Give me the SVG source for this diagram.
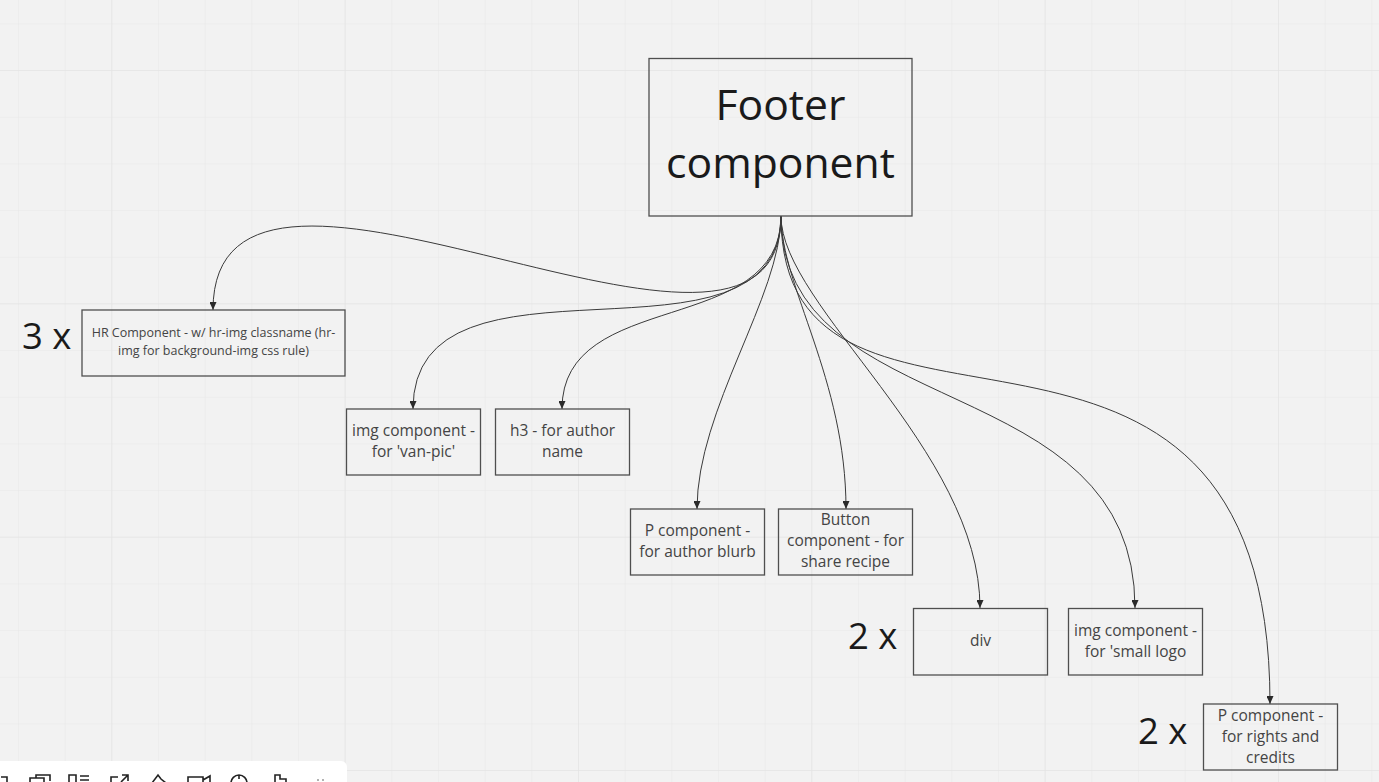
<svg xmlns="http://www.w3.org/2000/svg" width="1379" height="782" viewBox="0 0 1379 782">
<style>
.box{fill:none;stroke:#4f4f4f;stroke-width:1.3}
.t{font-family:"Open Sans","Noto Sans","Liberation Sans",sans-serif;font-size:15.5px;fill:#444;text-anchor:middle}
.ts{font-family:"Open Sans","Noto Sans","Liberation Sans",sans-serif;font-size:12.5px;fill:#444;text-anchor:middle}
.big{font-family:"Open Sans","Noto Sans","Liberation Sans",sans-serif;font-size:42.7px;fill:#1a1a1a;text-anchor:middle}
.mult{font-family:"Open Sans","Noto Sans","Liberation Sans",sans-serif;font-size:36.5px;fill:#1a1a1a}
.c{fill:none;stroke:#3a3a3a;stroke-width:1;marker-end:url(#arr)}
.ic{fill:none;stroke:#222;stroke-width:1.6}
</style>
<defs>
<pattern id="minor" patternUnits="userSpaceOnUse" x="18" y="23.4" width="46.667" height="46.667">
<path d="M0,0 V46.667 M0,0 H46.667" fill="none" stroke="#e8e8e8" stroke-width="1"/>
</pattern>
<pattern id="major" patternUnits="userSpaceOnUse" x="111.3" y="70" width="233.333" height="233.333">
<path d="M0,0 V233.333 M0,0 H233.333" fill="none" stroke="#e2e2e2" stroke-width="1"/>
</pattern>
<marker id="arr" markerUnits="userSpaceOnUse" markerWidth="8" markerHeight="7" refX="8" refY="3.5" orient="auto">
<path d="M0,0 L8,3.5 L0,7 z" fill="#2a2a2a"/>
</marker>
</defs>
<rect width="1379" height="782" fill="#f2f2f2"/>
<rect width="1379" height="782" fill="url(#minor)"/>
<rect width="1379" height="782" fill="url(#major)"/>

<g id="connectors">
<path class="c" d="M781,216 C781,442 213,71 213,310"/>
<path class="c" d="M781,216 C781,386 413,231 413,409"/>
<path class="c" d="M781,216 C781,338 562,287 562,409"/>
<path class="c" d="M781,216 C781,296 697,409 697,509"/>
<path class="c" d="M781,216 C781,286 846,379 846,509"/>
<path class="c" d="M781,216 C781,306 980,450 980,608"/>
<path class="c" d="M781,216 C781,427 1135,365 1135,608"/>
<path class="c" d="M781,216 C781,506 1270,217 1270,704"/>
</g>

<g id="footer">
<rect class="box" x="649" y="58.5" width="263" height="157.5"/>
<text class="big" x="780.5" y="120">Footer</text>
<text class="big" x="780.5" y="178">component</text>
</g>

<g id="hr">
<rect class="box" x="82" y="310" width="263" height="66"/>
<text class="ts" x="213.5" y="337">HR Component - w/ hr-img classname (hr-</text>
<text class="ts" x="213.5" y="355">img for background-img css rule)</text>
<text class="mult" x="22" y="349">3 x</text>
</g>

<g id="img-van">
<rect class="box" x="346.5" y="409" width="134" height="66"/>
<text class="t" x="413.5" y="436">img component -</text>
<text class="t" x="413.5" y="457">for 'van-pic'</text>
</g>

<g id="h3">
<rect class="box" x="495.5" y="409" width="134" height="66"/>
<text class="t" x="562.5" y="436">h3 - for author</text>
<text class="t" x="562.5" y="457">name</text>
</g>

<g id="p-blurb">
<rect class="box" x="630.5" y="509" width="134" height="66"/>
<text class="t" x="697.5" y="536">P component -</text>
<text class="t" x="697.5" y="557">for author blurb</text>
</g>

<g id="button">
<rect class="box" x="778.5" y="509" width="134" height="66"/>
<text class="t" x="845.5" y="525">Button</text>
<text class="t" x="845.5" y="546">component - for</text>
<text class="t" x="845.5" y="567">share recipe</text>
</g>

<g id="div">
<rect class="box" x="913.5" y="608.5" width="134" height="66.5"/>
<text class="t" x="980.5" y="646">div</text>
<text class="mult" x="848" y="649">2 x</text>
</g>

<g id="img-logo">
<rect class="box" x="1068.5" y="608.5" width="134" height="66.5"/>
<text class="t" x="1135.5" y="635.5">img component -</text>
<text class="t" x="1135.5" y="656.5">for 'small logo</text>
</g>

<g id="p-rights">
<rect class="box" x="1203.5" y="704" width="134" height="66"/>
<text class="t" x="1270.5" y="721">P component -</text>
<text class="t" x="1270.5" y="742">for rights and</text>
<text class="t" x="1270.5" y="763">credits</text>
<text class="mult" x="1138" y="744">2 x</text>
</g>

<g id="toolbar">
<rect x="-10" y="761" width="357" height="40" rx="6" fill="#ffffff"/>
<path class="ic" d="M1,777 H7 V783"/>
<path class="ic" d="M30,783 V778 H44 V783 M36,778 V775 H50 V781"/>
<path class="ic" d="M69,783 V775 H76 V783 M80,776 H89 M80,780 H89"/>
<path class="ic" d="M111,783 V777 H118 M122,775 H128 V781 M128,775 L121,782"/>
<path class="ic" d="M152,783 L158,775 L161,779 L166,783"/>
<path class="ic" d="M188,783 V777 H203 V783 M203,780 L210,776 V783"/>
<path class="ic" d="M231,783 A8,8 0 0 1 247,783 M239,775 V779"/>
<path class="ic" d="M275,783 V775 H280 V779 H286 V783"/>
<circle cx="318" cy="780" r="1" fill="#999"/>
<circle cx="323" cy="780" r="1" fill="#999"/>
</g>
</svg>
